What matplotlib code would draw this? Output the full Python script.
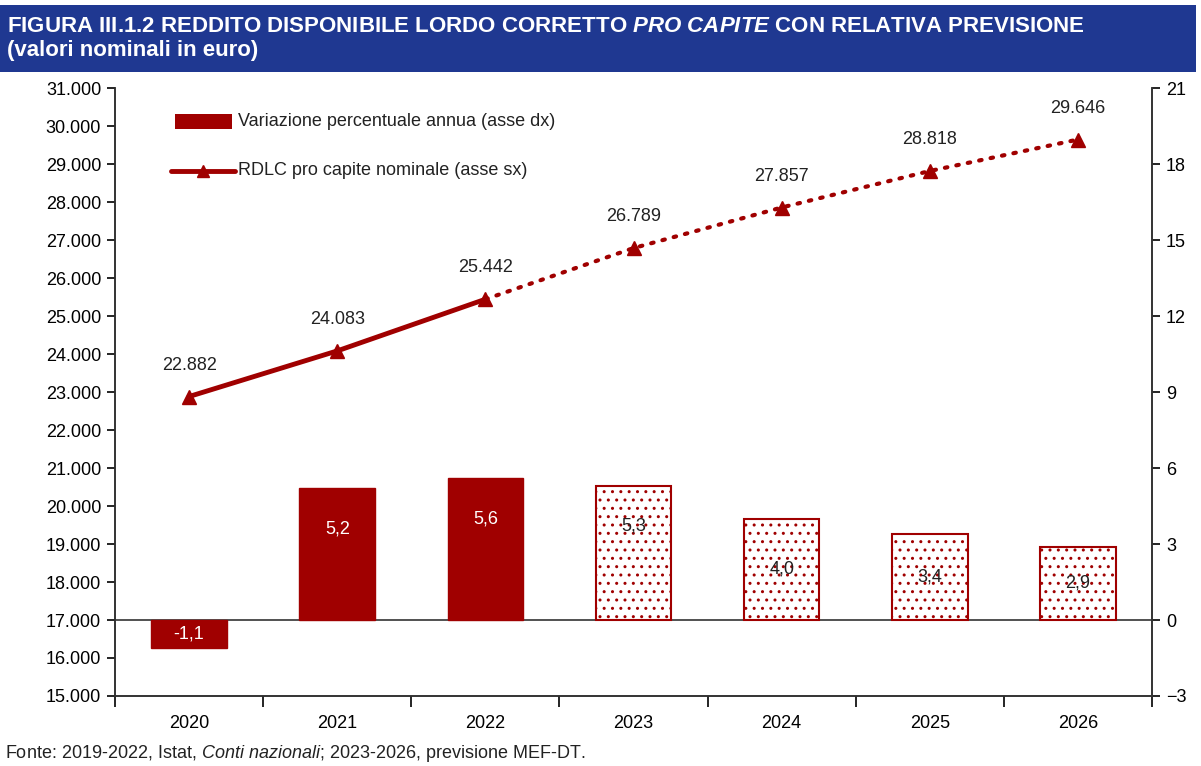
import matplotlib.pyplot as plt
from matplotlib.patches import Rectangle
from matplotlib.ticker import FuncFormatter
import numpy as np

# data
years = ["2020", "2021", "2022", "2023", "2024", "2025", "2026"]
rdlc = [22882, 24083, 25442, 26789, 27857, 28818, 29646]
var_pct = [-1.1, 5.2, 5.6, 5.3, 4.0, 3.4, 2.9]
n_actual = 3  # 2020-2022 observed, the rest forecast

red = "#a00000"
navy = "#1f3891"
plt.rcParams['font.family'] = ['Liberation Sans', 'DejaVu Sans']
plt.rcParams['mathtext.fontset'] = 'custom'
plt.rcParams['mathtext.rm'] = 'Liberation Sans'
plt.rcParams['mathtext.it'] = 'Liberation Sans:italic'
plt.rcParams['mathtext.bf'] = 'Liberation Sans:bold'
plt.rcParams['mathtext.bfit'] = 'Liberation Sans:bold:italic'

fig = plt.figure(figsize=(12.01, 7.66), dpi=100)

# title banner
fig.patches.append(Rectangle((0, 0.906), 0.996, 0.088, transform=fig.transFigure,
                             facecolor=navy, edgecolor="none", zorder=0))
fig.text(0.006, 0.966, "FIGURA III.1.2 REDDITO DISPONIBILE LORDO CORRETTO $\\mathbfit{PRO\\ CAPITE}$ CON RELATIVA PREVISIONE",
         color="white", fontsize=16, fontweight="bold", va="center")
fig.text(0.006, 0.934, "(valori nominali in euro)", color="white", fontsize=16,
         fontweight="bold", va="center")

ax = fig.add_axes([0.0958, 0.0914, 0.8634, 0.7936])
ax2 = ax.twinx()
x = np.arange(len(years))

# bars on the right axis
for i, v in enumerate(var_pct):
    if i < n_actual:
        ax2.bar(x[i], v, width=0.51, color=red, edgecolor=red, zorder=2)
    else:
        ax2.bar(x[i], v, width=0.51, facecolor="white", edgecolor=red,
                hatch="..", linewidth=1.5, zorder=2)
    ly = v / 2 if v < 5 else v - 1.6
    ax2.text(x[i], ly, f"{v:.1f}".replace(".", ","), ha="center", va="center",
             fontsize=13, color="white" if i < n_actual else "#222222", zorder=3)
ax2.axhline(0, color="#333333", lw=1.2, zorder=1)

# line on the left axis, kept above the bars
ax.set_zorder(ax2.get_zorder() + 1)
ax.patch.set_visible(False)
ax.plot(x[:n_actual], rdlc[:n_actual], color=red, lw=3.5, solid_capstyle="round")
ax.plot(x[n_actual - 1:], rdlc[n_actual - 1:], color=red, lw=3,
        linestyle=(0, (0.6, 2.2)), dash_capstyle="round")
ax.plot(x, rdlc, linestyle="none", marker="^", color=red, markersize=10)
for xi, v in zip(x, rdlc):
    ax.text(xi, v + 600, f"{v:,}".replace(",", "."), ha="center", va="bottom",
            fontsize=13, color="#222222")

# legend
ax.add_patch(Rectangle((0.058, 0.932), 0.055, 0.026, transform=ax.transAxes,
                       facecolor=red, edgecolor="none", clip_on=False))
ax.text(0.119, 0.945, "Variazione percentuale annua (asse dx)", transform=ax.transAxes,
        fontsize=13, va="center", color="#222222")
ax.plot([0.054, 0.116], [0.864, 0.864], transform=ax.transAxes, color=red, lw=3.5,
        solid_capstyle="round")
ax.plot([0.085], [0.864], transform=ax.transAxes, marker="^", color=red, markersize=9)
ax.text(0.119, 0.864, "RDLC pro capite nominale (asse sx)", transform=ax.transAxes,
        fontsize=13, va="center", color="#222222")

# axes
ax.set_xlim(-0.5, len(years) - 0.5)
ax.set_ylim(15000, 31000)
ax.set_yticks(np.arange(15000, 31001, 1000))
ax.yaxis.set_major_formatter(FuncFormatter(lambda v, p: f"{int(v):,}".replace(",", ".")))
ax2.set_ylim(-3, 21)
ax2.set_yticks(np.arange(-3, 22, 3))

ax.set_xticks(x)
ax.set_xticklabels(years)
ax.set_xticks(np.arange(-0.5, len(years)), minor=True)
ax.tick_params(axis="x", which="major", length=0, labelsize=13, pad=14)
ax.tick_params(axis="x", which="minor", length=8, width=1.2, direction="out")
ax.tick_params(axis="y", length=6, width=1.2, labelsize=13, pad=4)
ax2.tick_params(axis="y", length=6, width=1.2, labelsize=13, pad=4)

for a in (ax, ax2):
    a.spines["top"].set_visible(False)
    for s in ("left", "right", "bottom"):
        a.spines[s].set_linewidth(1.2)
        a.spines[s].set_color("#333333")

fig.text(0.004, 0.002, "Fonte: 2019-2022, Istat, $\\it{Conti\\ nazionali}$; 2023-2026, previsione MEF-DT.",
         fontsize=13, color="#222222", va="bottom")

fig.savefig("out.png", dpi=100)
